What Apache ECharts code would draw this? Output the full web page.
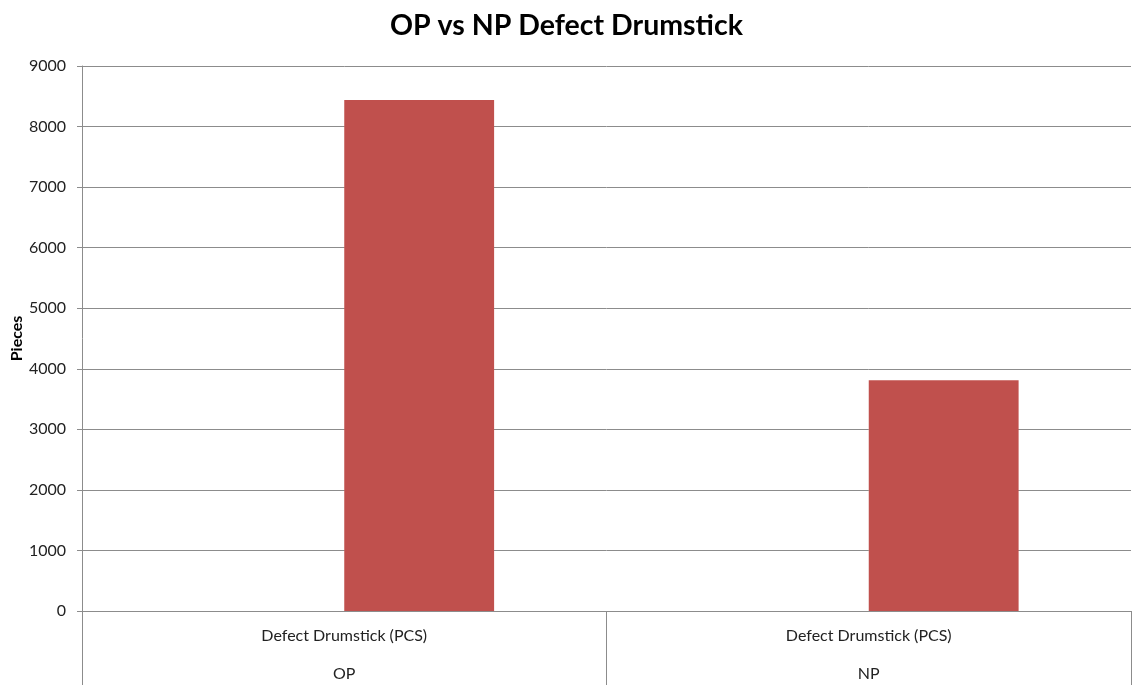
<!DOCTYPE html>
<html>
<head>
<meta charset="utf-8">
<script src="https://cdn.jsdelivr.net/npm/echarts@6/dist/echarts.min.js"></script>
<style>
  html, body { margin: 0; padding: 0; background: #fff; overflow: hidden; }
  #chart { width: 1138px; height: 685px; }
</style>
</head>
<body>
<div id="chart"></div>
<script>
// Defect counts per period (pieces)
const periods = ['OP', 'NP'];
const itemLabel = 'Defect Drumstick (PCS)';
const emptySeries = [0, 0];
const defectPieces = [8440, 3810];
const yTicks = { min: 0, max: 9000, interval: 1000 };

const font = 'Lato, "Open Sans", sans-serif';
const gridColor = '#8c8c8c';

const chart = echarts.init(document.getElementById('chart'));
chart.setOption({
  animation: false,
  title: {
    text: 'OP vs NP Defect Drumstick',
    left: 385,
    top: 6,
    textStyle: { fontFamily: font, fontSize: 28.5, fontWeight: 'bold', color: '#000' }
  },
  grid: { left: 82, right: 7, top: 66, bottom: 74, containLabel: false, outerBoundsMode: 'none' },
  xAxis: {
    type: 'category',
    data: periods,
    axisLine: { show: true, lineStyle: { color: gridColor, width: 1 } },
    axisTick: { show: true, alignWithLabel: false, length: 74, inside: false, lineStyle: { color: gridColor, width: 1 } },
    axisLabel: {
      margin: 6,
      formatter: function (v) { return '{a|' + itemLabel + '}\n{b|' + v + '}'; },
      rich: {
        a: { fontFamily: font, fontSize: 16, color: '#222', lineHeight: 38, align: 'center' },
        b: { fontFamily: font, fontSize: 16, color: '#222', lineHeight: 38, align: 'center' }
      }
    },
    splitLine: { show: false }
  },
  yAxis: {
    type: 'value',
    min: yTicks.min,
    max: yTicks.max,
    interval: yTicks.interval,
    name: 'Pieces',
    nameLocation: 'middle',
    nameGap: 57,
    nameMoveOverlap: false,
    nameRotate: 90,
    nameTextStyle: { fontFamily: font, fontSize: 16, fontWeight: 'bold', color: '#000' },
    axisLine: { show: true, lineStyle: { color: gridColor, width: 1 } },
    axisTick: { show: true, length: 5, lineStyle: { color: gridColor } },
    axisLabel: {
      margin: 16,
      fontFamily: font,
      fontSize: 16,
      color: '#222',
      formatter: function (v) { return String(v); }
    },
    splitLine: { show: true, lineStyle: { color: gridColor, width: 1 } }
  },
  series: [
    {
      name: 'Blank',
      type: 'bar',
      data: emptySeries,
      barGap: '0%',
      barCategoryGap: '42.857%',
      itemStyle: { color: 'transparent' },
      silent: true
    },
    {
      name: itemLabel,
      type: 'bar',
      data: defectPieces,
      barGap: '0%',
      barCategoryGap: '42.857%',
      itemStyle: { color: '#C0504D' }
    }
  ]
});
</script>
</body>
</html>
